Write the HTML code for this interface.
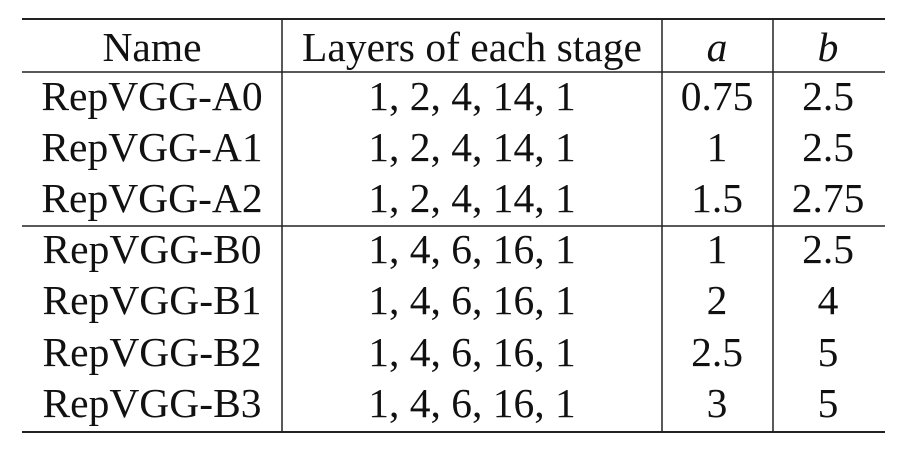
<!DOCTYPE html>
<html><head><meta charset="utf-8"><style>
html,body{margin:0;padding:0;background:#fff;width:908px;height:450px;overflow:hidden}
svg text{font-family:"Liberation Serif",serif;font-size:41.5px;fill:#111;text-anchor:middle}
</style></head><body>
<svg width="908" height="450">
<g stroke="#222">
<line x1="22" x2="885" y1="19" y2="19" stroke-width="2"/>
<line x1="22" x2="885" y1="72" y2="72" stroke-width="1.5"/>
<line x1="22" x2="885" y1="226" y2="226" stroke-width="1.5"/>
<line x1="22" x2="885" y1="432" y2="432" stroke-width="2"/>
<line x1="282" x2="282" y1="19" y2="432" stroke-width="1.5"/>
<line x1="662" x2="662" y1="19" y2="432" stroke-width="1.5"/>
<line x1="773" x2="773" y1="19" y2="432" stroke-width="1.5"/>
</g>
<g>
<text x="152" y="61">Name</text>
<text x="472" y="61">Layers of each stage</text>
<text x="717" y="61" font-style="italic">a</text>
<text x="828" y="61" font-style="italic">b</text>
</g>
<g id="rows"></g>
</svg>
<script>
const names=["RepVGG-A0","RepVGG-A1","RepVGG-A2","RepVGG-B0","RepVGG-B1","RepVGG-B2","RepVGG-B3"];
const layers=["1, 2, 4, 14, 1","1, 2, 4, 14, 1","1, 2, 4, 14, 1","1, 4, 6, 16, 1","1, 4, 6, 16, 1","1, 4, 6, 16, 1","1, 4, 6, 16, 1"];
const aVals=["0.75","1","1.5","1","2","2.5","3"];
const bVals=["2.5","2.5","2.75","2.5","4","5","5"];
const g=document.getElementById('rows');
const NS="http://www.w3.org/2000/svg";
const baselines=[110,161,212,263,314,366,417];
const cols=[[152,names,'name'],[472,layers,'layers'],[717,aVals,'a'],[828,bVals,'b']];
names.forEach((n,i)=>{
  cols.forEach(c=>{
    const t=document.createElementNS(NS,'text');
    t.setAttribute('x',c[0]);t.setAttribute('y',baselines[i]);
    t.textContent=c[1][i];
    
    
    g.appendChild(t);
  });
});
</script>
</body></html>
